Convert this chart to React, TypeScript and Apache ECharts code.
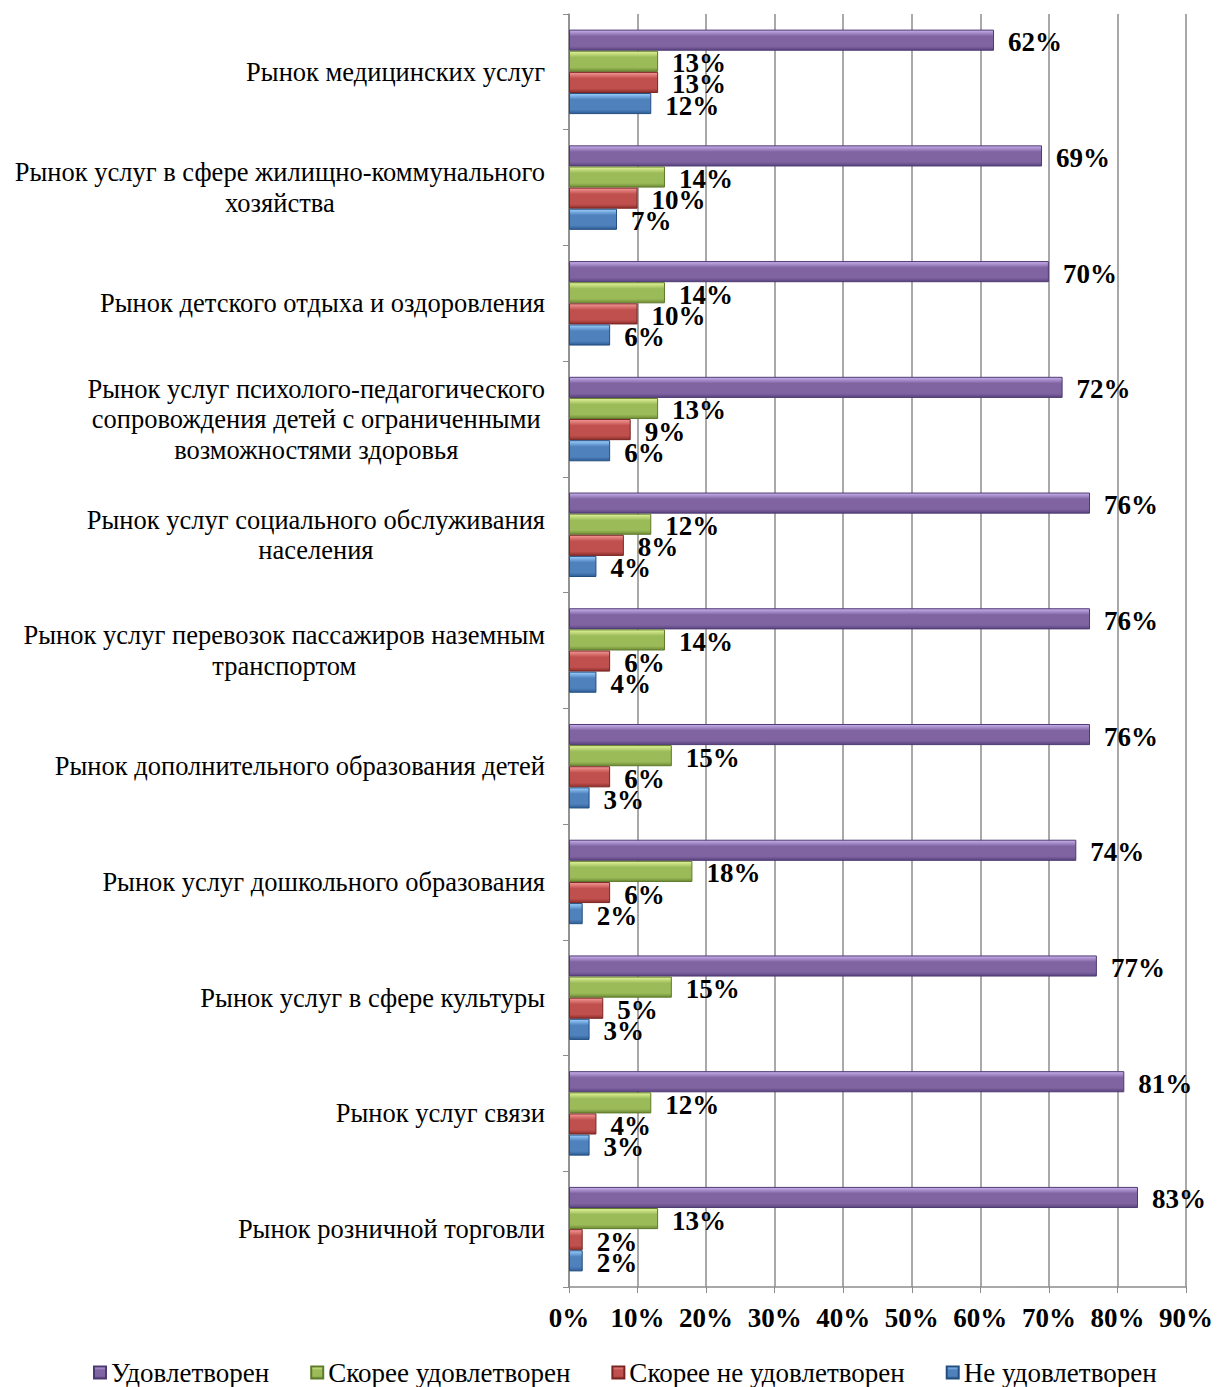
import React, { useEffect, useRef } from "react";
import * as echarts from "echarts";

const categories = [
  "Рынок медицинских услуг",
  "Рынок услуг в сфере жилищно-коммунального\nхозяйства",
  "Рынок детского отдыха и оздоровления",
  "Рынок услуг психолого-педагогического\nсопровождения детей с ограниченными\nвозможностями здоровья",
  "Рынок услуг социального обслуживания\nнаселения",
  "Рынок услуг перевозок пассажиров наземным\nтранспортом",
  "Рынок дополнительного образования детей",
  "Рынок услуг дошкольного образования",
  "Рынок услуг в сфере культуры",
  "Рынок услуг связи",
  "Рынок розничной торговли",
];

const seriesNames = [
  "Удовлетворен",
  "Скорее удовлетворен",
  "Скорее не удовлетворен",
  "Не удовлетворен",
];

const satisfied = [62, 69, 70, 72, 76, 76, 76, 74, 77, 81, 83];
const ratherSatisfied = [13, 14, 14, 13, 12, 14, 15, 18, 15, 12, 13];
const ratherNotSatisfied = [13, 10, 10, 9, 8, 6, 6, 6, 5, 4, 2];
const notSatisfied = [12, 7, 6, 6, 4, 4, 3, 2, 3, 3, 2];

const xTicks = [0, 10, 20, 30, 40, 50, 60, 70, 80, 90];

const palettes = [
  { light: "#c9b2ee", base: "#8064a2", dark: "#5a4380", border: "#4e3a70" },
  { light: "#e3f59a", base: "#9bbb59", dark: "#6f8b35", border: "#5e7a2a" },
  { light: "#f59a98", base: "#c0504d", dark: "#8e2f2d", border: "#7a2422" },
  { light: "#9cd0ff", base: "#4f81bd", dark: "#2d5d94", border: "#244e80" },
];

const FONT = "'Liberation Serif', 'Times New Roman', serif";

export default function App() {
  const ref = useRef<HTMLDivElement>(null);
  useEffect(() => {
    document.body.style.margin = "0";
    if (!ref.current) return;
    const chart = echarts.init(ref.current, undefined, { renderer: "svg" });
    const dataSets = [satisfied, ratherSatisfied, ratherNotSatisfied, notSatisfied];
    const series = dataSets.map((d, i) => {
      const p = palettes[i];
      return {
        name: seriesNames[i],
        type: "bar",
        data: d,
        barGap: "0%",
        barCategoryGap: "27%",
        itemStyle: {
          color: new echarts.graphic.LinearGradient(0, 0, 0, 1, [
            { offset: 0, color: p.light },
            { offset: 0.3, color: p.base },
            { offset: 0.8, color: p.base },
            { offset: 1, color: p.dark },
          ]),
          borderColor: p.border,
          borderWidth: 1,
        },
        label: {
          show: true,
          position: "right",
          distance: 14,
          offset: [0, 2],
          formatter: "{c}%",
          fontFamily: FONT,
          fontWeight: "bold",
          fontSize: 27,
          lineHeight: 24,
          color: "#000",
        },
      };
    });
    chart.setOption({
      animation: false,
      backgroundColor: "#fff",
      legend: {
        data: seriesNames,
        top: 1359,
        left: 93,
        icon: "rect",
        itemWidth: 12,
        itemHeight: 12,
        itemGap: 41,
        padding: 0,
        textStyle: {
          fontFamily: FONT,
          fontSize: 27,
          lineHeight: 24,
          color: "#000",
          padding: [0, 0, 0, 0],
        },
      },
      grid: { left: 569, right: 39, top: 14, bottom: 100, containLabel: false },
      xAxis: {
        type: "value",
        min: 0,
        max: 90,
        interval: 10,
        axisLine: { show: true, lineStyle: { color: "#8c8c8c", width: 1.5 } },
        axisTick: { show: true, length: 6, lineStyle: { color: "#8c8c8c" } },
        splitLine: { show: true, lineStyle: { color: "#8c8c8c", width: 1.5 } },
        axisLabel: {
          formatter: (v: number) => (xTicks.includes(v) ? v + "%" : ""),
          fontFamily: FONT,
          fontWeight: "bold",
          fontSize: 27,
          color: "#000",
          margin: 17,
        },
      },
      yAxis: {
        type: "category",
        data: categories,
        inverse: true,
        axisLine: { show: true, lineStyle: { color: "#8c8c8c", width: 1.5 } },
        axisTick: { show: true, length: 6, lineStyle: { color: "#8c8c8c" } },
        axisLabel: {
          margin: 24,
          formatter: (v: string) =>
            v
              .split("\n")
              .map((l) => "{c|" + l + "}")
              .join("\n"),
          rich: {
            c: {
              align: "center",
              fontFamily: FONT,
              fontSize: 26.5,
              color: "#000",
              lineHeight: 30.5,
            },
          },
        },
      },
      series,
    });
    return () => chart.dispose();
  }, []);
  return <div ref={ref} style={{ width: 1225, height: 1387 }} />;
}
